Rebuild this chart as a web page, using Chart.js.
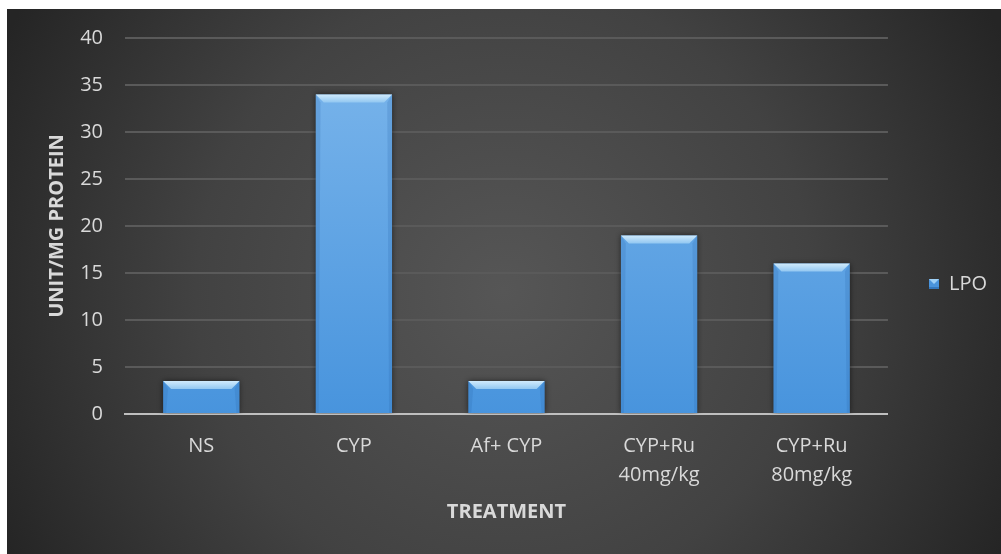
<!DOCTYPE html>
<html>
<head>
<meta charset="utf-8">
<script src="https://cdn.jsdelivr.net/npm/chart.js@4/dist/chart.umd.min.js"></script>
<style>
  html, body { margin: 0; padding: 0; background: #ffffff; }
  #wrap { width: 1001px; height: 554px; position: relative; }
</style>
</head>
<body>
<div id="wrap"><canvas id="c" width="1001" height="554"></canvas></div>
<script>
// Treatment groups (multi-line labels are arrays of lines)
const categories = ['NS', 'CYP', 'Af+ CYP', ['CYP+Ru', '40mg/kg'], ['CYP+Ru', '80mg/kg']];
// LPO level, unit/mg protein
const lpoValues = [3.5, 34, 3.5, 19, 16];
const seriesName = 'LPO';
const yMin = 0;
const yMax = 40;
const yStep = 5;
const yTitle = 'UNIT/MG PROTEIN';
const xTitle = 'TREATMENT';

const TEXT = '#d9d9d9';
const FONT = '"Open Sans", "Noto Sans", sans-serif';

// small bevelled square used as the legend marker
function makeLegendMarker() {
  const s = 10;
  const cv = document.createElement('canvas');
  cv.width = s; cv.height = s;
  const g = cv.getContext('2d');
  g.fillStyle = '#4a94dc';
  g.fillRect(0, 0, s, s);
  g.fillStyle = '#9fd0f6';
  g.beginPath();
  g.moveTo(0, 0); g.lineTo(s, 0); g.lineTo(s / 2, s / 2); g.closePath();
  g.fill();
  g.fillStyle = '#3578bd';
  g.fillRect(0, s - 2, s, 2);
  return cv;
}
const legendMarker = makeLegendMarker();

// dark panel with a soft radial light in the middle
const panelBackground = {
  id: 'panelBackground',
  beforeDraw(chart) {
    const ctx = chart.ctx;
    const w = chart.width, h = chart.height;
    ctx.save();
    ctx.fillStyle = '#ffffff';
    ctx.fillRect(0, 0, w, h);
    const x0 = 7, y0 = 9;
    const cx = (x0 + w) / 2, cy = (y0 + h) / 2 + 10;
    const grad = ctx.createRadialGradient(cx, cy, 0, cx, cy, 560);
    grad.addColorStop(0, '#565656');
    grad.addColorStop(0.55, '#424242');
    grad.addColorStop(1, '#252525');
    ctx.fillStyle = grad;
    ctx.fillRect(x0, y0, w - x0, h - y0);
    ctx.restore();
  }
};

// soft shadow behind the bars, and a light bevel on their tops
const barBevel = {
  id: 'barBevel',
  beforeDatasetDraw(chart) {
    const ctx = chart.ctx;
    ctx.save();
    ctx.shadowColor = 'rgba(0,0,0,0.55)';
    ctx.shadowBlur = 6;
    ctx.shadowOffsetX = 0;
    ctx.shadowOffsetY = 0;
  },
  afterDatasetDraw(chart, args) {
    const ctx = chart.ctx;
    ctx.restore();
    const meta = args.meta;
    meta.data.forEach((bar) => {
      const p = bar.getProps(['x', 'y', 'base', 'width'], true);
      const l = p.x - p.width / 2, r = p.x + p.width / 2;
      const t = p.y, b = p.base;
      const d = 8;
      ctx.save();
      // top bevel
      const tg = ctx.createLinearGradient(0, t, 0, t + d);
      tg.addColorStop(0, '#cfeafc');
      tg.addColorStop(1, '#92c7f1');
      ctx.fillStyle = tg;
      ctx.beginPath();
      ctx.moveTo(l, t); ctx.lineTo(r, t); ctx.lineTo(r - d, t + d); ctx.lineTo(l + d, t + d); ctx.closePath();
      ctx.fill();
      // side edges
      ctx.fillStyle = 'rgba(40,100,170,0.2)';
      ctx.beginPath();
      ctx.moveTo(l, t); ctx.lineTo(l + d * 0.6, t + d); ctx.lineTo(l + 3, b); ctx.lineTo(l, b); ctx.closePath();
      ctx.fill();
      ctx.beginPath();
      ctx.moveTo(r, t); ctx.lineTo(r - d * 0.6, t + d); ctx.lineTo(r - 3, b); ctx.lineTo(r, b); ctx.closePath();
      ctx.fill();
      ctx.restore();
    });
  }
};

const ctx = document.getElementById('c').getContext('2d');
new Chart(ctx, {
  type: 'bar',
  data: {
    labels: categories,
    datasets: [{
      label: seriesName,
      data: lpoValues,
      backgroundColor(context) {
        const area = context.chart.chartArea;
        if (!area) return '#5b9bd5';
        const g = context.chart.ctx.createLinearGradient(0, area.top, 0, area.bottom);
        g.addColorStop(0, '#7db7ec');
        g.addColorStop(1, '#4894dd');
        return g;
      },
      borderWidth: 0,
      categoryPercentage: 0.5,
      barPercentage: 1.0
    }]
  },
  options: {
    responsive: false,
    animation: false,
    devicePixelRatio: 1,
    layout: { padding: { left: 7, top: 38, right: 4, bottom: 24 } },
    plugins: {
      legend: {
        display: true,
        position: 'right',
        align: 'center',
        labels: {
          color: TEXT,
          font: { family: FONT, size: 20 },
          boxWidth: 10,
          boxHeight: 10,
          padding: 41,
          usePointStyle: true,
          pointStyle: legendMarker
        }
      },
      tooltip: { enabled: false }
    },
    scales: {
      x: {
        afterFit(scale) { scale.height = 116; },
        grid: { display: false, drawTicks: false },
        border: { display: true, color: '#bfbfbf', width: 2 },
        ticks: {
          color: TEXT,
          font: { family: FONT, size: 20, lineHeight: 1.45 },
          padding: 18,
          maxRotation: 0,
          autoSkip: false
        },
        title: {
          display: true,
          text: xTitle,
          color: TEXT,
          font: { family: FONT, size: 20, weight: 'bold' },
          padding: { top: 0, bottom: 6 }
        }
      },
      y: {
        min: yMin,
        max: yMax,
        afterFit(scale) { scale.width = 118; },
        grid: {
          color: (c) => (c.tick && c.tick.value === 0 ? 'rgba(0,0,0,0)' : '#5a5a5a'),
          lineWidth: 2,
          drawTicks: false
        },
        border: { display: false },
        ticks: {
          stepSize: yStep,
          color: TEXT,
          font: { family: FONT, size: 20 },
          padding: 22
        },
        title: {
          display: true,
          text: yTitle,
          color: TEXT,
          font: { family: FONT, size: 20, weight: 'bold' },
          padding: { top: 38, bottom: 0 }
        }
      }
    }
  },
  plugins: [panelBackground, barBevel]
});
</script>
</body>
</html>
